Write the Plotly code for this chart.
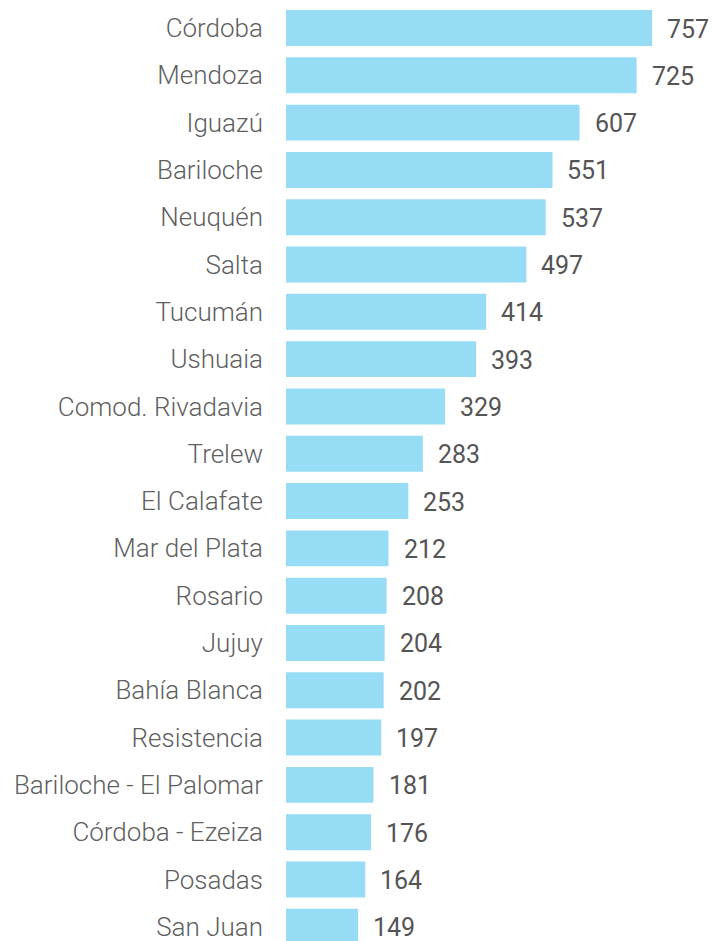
import plotly.graph_objects as go

categories = ["Córdoba", "Mendoza", "Iguazú", "Bariloche", "Neuquén", "Salta", "Tucumán",
              "Ushuaia", "Comod. Rivadavia", "Trelew", "El Calafate", "Mar del Plata",
              "Rosario", "Jujuy", "Bahía Blanca", "Resistencia", "Bariloche - El Palomar",
              "Córdoba - Ezeiza", "Posadas", "San Juan"]
values = [757, 725, 607, 551, 537, 497, 414, 393, 329, 283, 253, 212, 208, 204, 202, 197,
          181, 176, 164, 149]

fig = go.Figure()
fig.add_trace(go.Bar(
    x=values, y=categories, orientation="h",
    marker=dict(color="#97DCF5", line=dict(width=0)),
    width=0.76, hoverinfo="x+y",
))

for c, v in zip(categories, values):
    fig.add_annotation(x=v, y=c, text=str(v), showarrow=False, xanchor="left",
                       xshift=13, yshift=-1,
                       font=dict(family="Roboto", size=25, color="#555555"))

fig.update_layout(
    width=714, height=941,
    margin=dict(l=286, r=0, t=0, b=0),
    plot_bgcolor="white", paper_bgcolor="white",
    showlegend=False,
    xaxis=dict(range=[0, 885], visible=False, fixedrange=True),
    yaxis=dict(range=[19.30, -0.592], showgrid=False, zeroline=False, showline=False,
               ticks="", ticklabelstandoff=22,
               tickfont=dict(family="Roboto", size=26, weight=300, color="#5f5f5f")),
)

fig.write_html("out.html", config={"displayModeBar": False},
               post_script="document.body.style.margin='0';document.body.style.overflow='hidden';")
